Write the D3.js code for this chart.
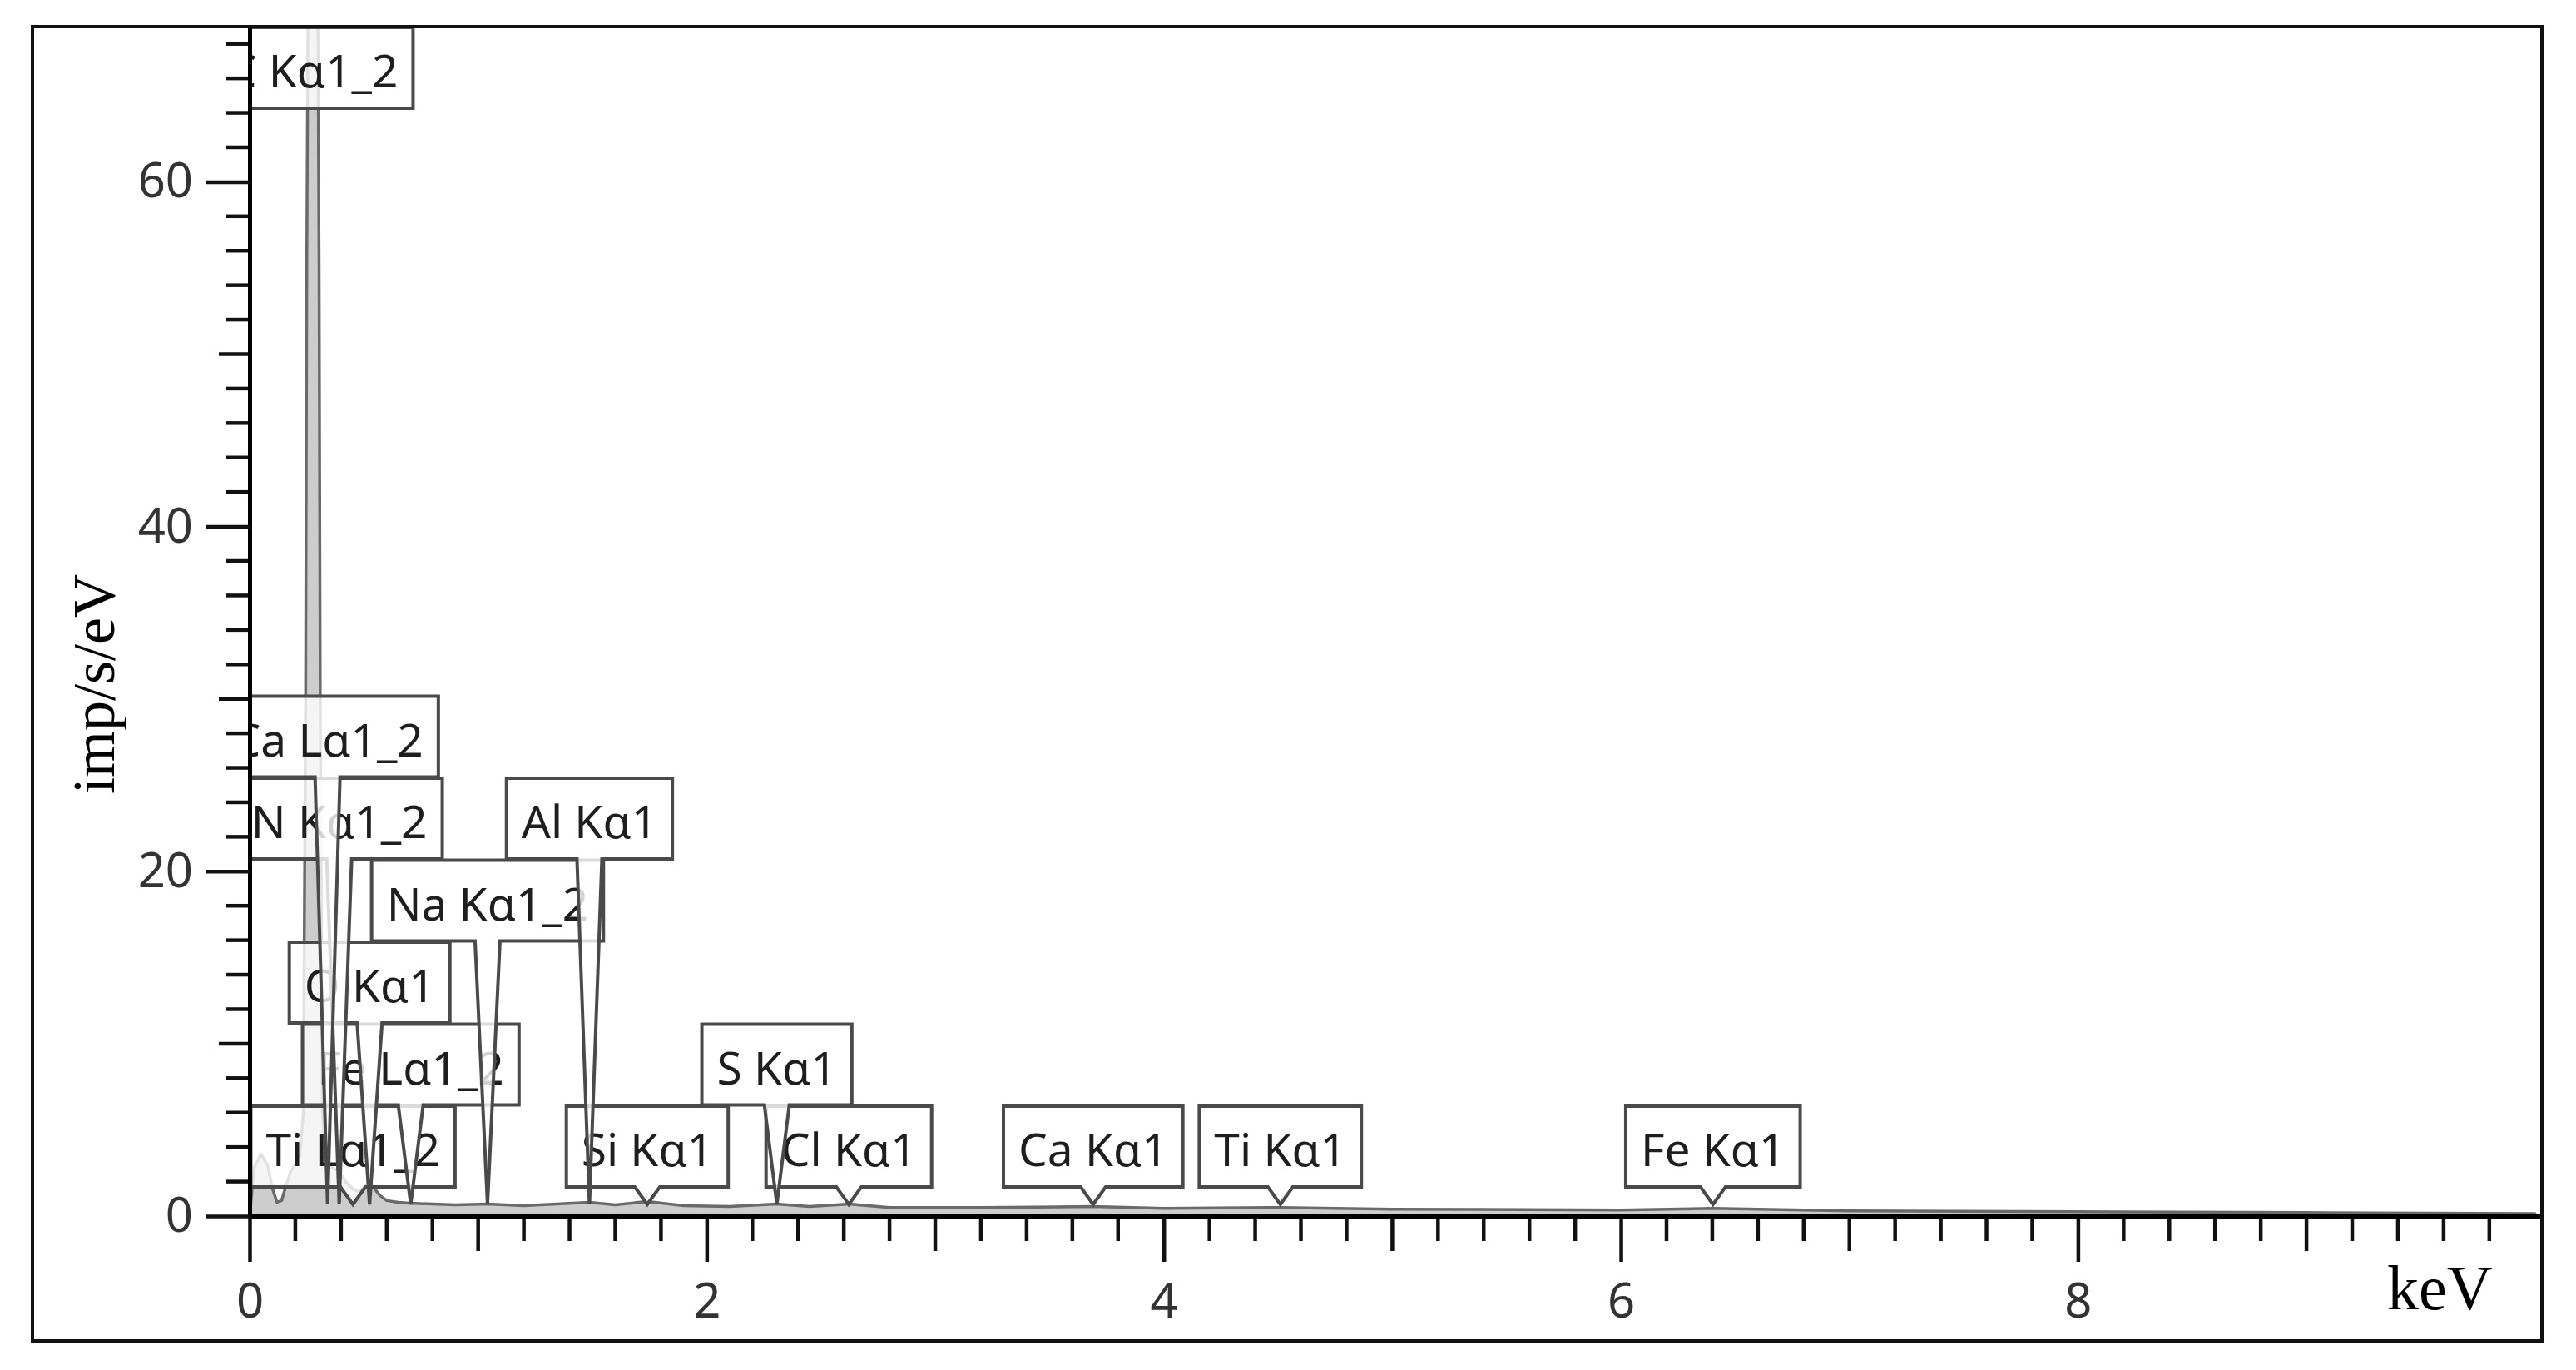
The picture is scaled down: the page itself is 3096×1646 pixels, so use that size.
<!DOCTYPE html>
<html>
<head>
<meta charset="utf-8">
<script src="https://cdn.jsdelivr.net/npm/d3@7"></script>
<style>
  html, body { margin: 0; padding: 0; background: #ffffff; }
  svg { display: block; }
</style>
</head>
<body>
<script>
// ---------- data ----------
const energyKeV = [0.00, 0.02, 0.05, 0.08, 0.10, 0.12, 0.14, 0.16, 0.18, 0.20, 0.22, 0.235, 0.245, 0.250, 0.257, 0.277, 0.297, 0.304, 0.309, 0.319, 0.33, 0.36, 0.39, 0.42, 0.45, 0.48, 0.51, 0.525, 0.54, 0.57, 0.60, 0.65, 0.70, 0.80, 0.90, 1.04, 1.20, 1.487, 1.60, 1.74, 1.90, 2.10, 2.307, 2.45, 2.622, 2.80, 3.20, 3.691, 4.00, 4.51, 5.00, 6.00, 6.403, 7.00, 8.00, 9.00, 10.00];
const countsPerSecEV = [0.0, 2.8, 3.6, 2.9, 1.6, 0.8, 0.9, 1.8, 2.6, 3.0, 3.5, 6, 30, 55, 75, 82, 75, 55, 30, 6, 3.2, 2.8, 2.6, 2.0, 1.6, 1.4, 1.8, 2.0, 1.7, 1.2, 0.9, 0.8, 0.75, 0.7, 0.65, 0.7, 0.6, 0.8, 0.65, 0.85, 0.6, 0.55, 0.7, 0.55, 0.7, 0.5, 0.5, 0.55, 0.45, 0.5, 0.4, 0.35, 0.45, 0.3, 0.25, 0.2, 0.15];

const lineLabels   = ["Ti Lα1_2", "Si Kα1", "Cl Kα1", "Ca Kα1", "Ti Kα1", "Fe Kα1", "Fe Lα1_2", "S Kα1", "O Kα1", "Na Kα1_2", "N Kα1_2", "Al Kα1", "Ca Lα1_2", "C Kα1_2"];
const lineEnergies = [0.452, 1.740, 2.622, 3.691, 4.510, 6.403, 0.705, 2.307, 0.525, 1.041, 0.392, 1.487, 0.341, 0.277];
const labelLevels  = [0, 0, 0, 0, 0, 0, 1, 1, 2, 3, 4, 4, 5, null]; // null = pinned to top of plot

const xTickValues = [0, 2, 4, 6, 8];
const yTickValues = [0, 20, 40, 60];
const xAxisTitle = "keV";
const yAxisTitle = "imp/s/eV";

// ---------- layout ----------
const W = 3096, H = 1646;
const plotL = 300, plotR = 3055, plotT = 32, plotB = 1461;

const svg = d3.select("body").append("svg")
  .attr("width", W).attr("height", H)
  .attr("viewBox", `0 0 ${W} ${H}`);

svg.append("rect").attr("x", 0).attr("y", 0).attr("width", W).attr("height", H).attr("fill", "#fff");

const x = d3.scaleLinear().domain([0, 10.03]).range([plotL, plotR]);
const y = d3.scaleLinear().domain([0, 69.0]).range([plotB, plotT]);

svg.append("defs").append("clipPath").attr("id", "plotClip")
  .append("rect").attr("x", plotL).attr("y", plotT)
  .attr("width", plotR - plotL).attr("height", plotB - plotT);

// ---------- spectrum ----------
const spec = energyKeV.map((e, i) => ({ e, v: countsPerSecEV[i] }));
const plotG = svg.append("g").attr("clip-path", "url(#plotClip)");

plotG.append("path")
  .datum(spec)
  .attr("d", d3.area().x(d => x(d.e)).y0(y(0)).y1(d => y(d.v)))
  .attr("fill", "#c4c4c4")
  .attr("fill-opacity", 0.85)
  .attr("stroke", "#6a6a6a")
  .attr("stroke-width", 3.5)
  .attr("stroke-linejoin", "round");

// ---------- callout labels ----------
const labelFont = "'Noto Sans', 'Open Sans', sans-serif";
const labelSize = 55;
const boxH = 97, rowStep = 98.5, stemHalf = 15;
const tipY = y(0) - 14;
const row0Bottom = tipY - 21;

d3.range(lineLabels.length).forEach(i => {
  const g = plotG.append("g");
  const cx = x(lineEnergies[i]);
  const txt = g.append("text")
    .attr("font-family", labelFont)
    .attr("font-size", labelSize)
    .attr("fill", "#1e1e1e")
    .attr("text-anchor", "middle")
    .text(lineLabels[i]);
  const tw = txt.node().getComputedTextLength();
  const bw = tw + 36;
  const lvl = labelLevels[i];
  let bb, bt;
  if (lvl === null) { bt = plotT + 1; bb = bt + boxH; }
  else { bb = row0Bottom - lvl * rowStep; bt = bb - boxH; }
  const bx0 = cx - bw / 2, bx1 = cx + bw / 2;
  let d;
  if (lvl === null) {
    d = `M${bx0},${bt}H${bx1}V${bb}H${bx0}Z`;
  } else {
    d = `M${bx0},${bt}H${bx1}V${bb}H${cx + stemHalf}L${cx},${tipY}L${cx - stemHalf},${bb}H${bx0}Z`;
  }
  g.insert("path", "text")
    .attr("d", d)
    .attr("fill", "#ffffff")
    .attr("fill-opacity", 0.8)
    .attr("stroke", "#4a4a4a")
    .attr("stroke-width", 4)
    .attr("stroke-linejoin", "miter");
  txt.attr("x", cx).attr("y", bb - 25);
});

// ---------- axes ----------
const tickFont = "'Noto Sans', 'Open Sans', sans-serif";

// x axis minor / medium ticks
const xMinor = d3.range(0, 10.01, 0.2).filter(v => Math.abs(v / 2 - Math.round(v / 2)) > 1e-6);
svg.append("g").selectAll("line").data(xMinor).join("line")
  .attr("x1", d => x(d)).attr("x2", d => x(d))
  .attr("y1", plotB)
  .attr("y2", d => plotB + (Math.abs(d - Math.round(d)) < 1e-6 ? 42 : 30))
  .attr("stroke", "#111").attr("stroke-width", 4.5);

const xAxis = svg.append("g").attr("transform", `translate(0,${plotB})`)
  .call(d3.axisBottom(x).tickValues(xTickValues).tickFormat(d3.format("d"))
    .tickSize(55).tickSizeOuter(0).tickPadding(26));
xAxis.select(".domain").attr("stroke", "#000").attr("stroke-width", 6);
xAxis.selectAll(".tick line").attr("stroke", "#111").attr("stroke-width", 4.5);
xAxis.selectAll(".tick text").attr("font-family", tickFont).attr("font-size", 58).attr("fill", "#333");

// y axis minor / medium ticks
const yMinor = d3.range(0, 69, 2).filter(v => v % 20 !== 0);
svg.append("g").selectAll("line").data(yMinor).join("line")
  .attr("y1", d => y(d)).attr("y2", d => y(d))
  .attr("x1", plotL)
  .attr("x2", d => plotL - (d % 10 === 0 ? 37 : 28))
  .attr("stroke", "#111").attr("stroke-width", 4.5);

const yAxis = svg.append("g").attr("transform", `translate(${plotL},0)`)
  .call(d3.axisLeft(y).tickValues(yTickValues).tickFormat(d3.format("d"))
    .tickSize(52).tickSizeOuter(0).tickPadding(16));
yAxis.select(".domain").attr("stroke", "#000").attr("stroke-width", 5);
yAxis.selectAll(".tick line").attr("stroke", "#111").attr("stroke-width", 4.5);
yAxis.selectAll(".tick text").attr("font-family", tickFont).attr("font-size", 58).attr("fill", "#333");

// x axis line reaching to frame
svg.append("line").attr("x1", plotL).attr("x2", plotR).attr("y1", plotB).attr("y2", plotB)
  .attr("stroke", "#000").attr("stroke-width", 6);

// ---------- titles ----------
svg.append("text")
  .attr("transform", `translate(137,822) rotate(-90)`)
  .attr("text-anchor", "middle")
  .attr("font-family", "'Liberation Serif', 'Times New Roman', serif")
  .attr("font-size", 72)
  .attr("fill", "#000")
  .text(yAxisTitle);

svg.append("text")
  .attr("x", 2869).attr("y", 1573)
  .attr("font-family", "'Liberation Serif', 'Times New Roman', serif")
  .attr("font-size", 76)
  .attr("fill", "#000")
  .text(xAxisTitle);

// ---------- frame ----------
svg.append("rect")
  .attr("x", 39).attr("y", 32).attr("width", 3055 - 39).attr("height", 1611 - 32)
  .attr("fill", "none").attr("stroke", "#111").attr("stroke-width", 4);
</script>
</body>
</html>
